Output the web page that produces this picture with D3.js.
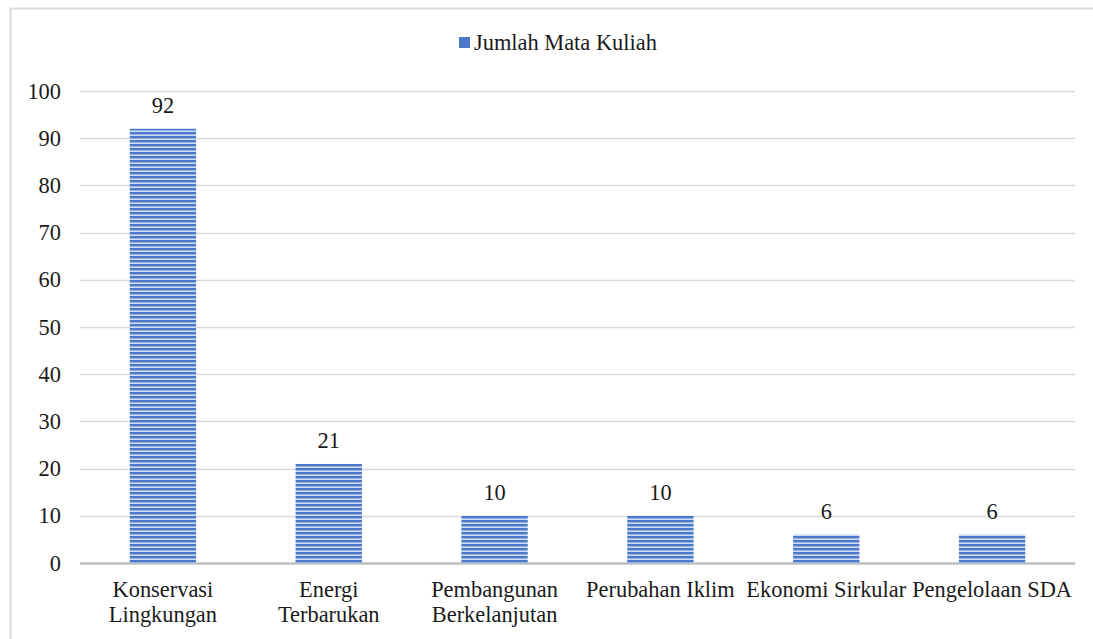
<!DOCTYPE html>
<meta charset="utf-8">
<script src="https://d3js.org/d3.v7.min.js"></script>
<style>
  body { margin: 0; background: #fff; }
  svg text { font-family: "Liberation Serif", "Times New Roman", "DejaVu Serif", serif; }
</style>
<body>
<script>

var categories = [
  ["Konservasi", "Lingkungan"],
  ["Energi", "Terbarukan"],
  ["Pembangunan", "Berkelanjutan"],
  ["Perubahan Iklim"],
  ["Ekonomi Sirkular"],
  ["Pengelolaan SDA"]
];
var jumlah = [92, 21, 10, 10, 6, 6];
var yTicks = [0, 10, 20, 30, 40, 50, 60, 70, 80, 90, 100];
var seriesName = "Jumlah Mata Kuliah";

var W = 1093, H = 639;
var margin = {top: 91, right: 18, bottom: 76, left: 80};
var fontSize = "22.4px";

var svg = d3.select("body").append("svg")
    .attr("width", W)
    .attr("height", H);

// striped fill like the original
var defs = svg.append("defs");
var pat = defs.append("pattern")
    .attr("id", "stripes")
    .attr("patternUnits", "userSpaceOnUse")
    .attr("width", 8).attr("height", 4);
pat.append("rect").attr("width", 8).attr("height", 4).attr("fill", "#cfdcf3");
pat.append("rect").attr("y", 0).attr("width", 8).attr("height", 2).attr("fill", "#4c79c9");
pat.append("rect").attr("y", 2).attr("width", 8).attr("height", 1).attr("fill", "#93b2e5");

// outer frame
svg.append("rect")
    .attr("x", 10.5).attr("y", 8.5)
    .attr("width", W + 20).attr("height", H + 20)
    .attr("fill", "none")
    .attr("stroke", "#d9d9d9")
    .attr("stroke-width", 2);

var x = d3.scaleBand()
    .domain(categories.map(function(d, i) { return i; }))
    .range([margin.left, W - margin.right]);

var y = d3.scaleLinear()
    .domain([0, 100])
    .range([H - margin.bottom, margin.top]);

// gridlines
svg.append("g")
  .selectAll("line")
  .data(yTicks)
  .enter().append("line")
    .attr("x1", margin.left)
    .attr("x2", W - margin.right)
    .attr("y1", function(d) { return Math.round(y(d)) + 0.5; })
    .attr("y2", function(d) { return Math.round(y(d)) + 0.5; })
    .attr("stroke", function(d) { return d === 0 ? "#bfbfbf" : "#d9d9d9"; })
    .attr("stroke-width", function(d) { return d === 0 ? 2.5 : 1.3; });

// y axis labels
var yAxis = d3.axisLeft(y).tickValues(yTicks).tickSize(0).tickPadding(0);
svg.append("g")
    .attr("transform", "translate(" + (margin.left - 19) + ",0)")
    .call(yAxis)
    .call(function(g) { g.select(".domain").remove(); })
    .attr("font-family", null)
    .attr("font-size", null)
    .selectAll("text")
      .style("font-size", fontSize)
      .attr("fill", "#1a1a1a");

// bars
var barW = x.bandwidth() * 0.4;
svg.append("g")
  .selectAll("rect")
  .data(jumlah)
  .enter().append("rect")
    .attr("x", function(d, i) { return x(i) + (x.bandwidth() - barW) / 2; })
    .attr("y", function(d) { return y(d); })
    .attr("width", barW)
    .attr("height", function(d) { return y(0) - y(d); })
    .attr("fill", "url(#stripes)");

// value labels
svg.append("g")
  .selectAll("text")
  .data(jumlah)
  .enter().append("text")
    .attr("x", function(d, i) { return x(i) + x.bandwidth() / 2; })
    .attr("y", function(d) { return y(d) - 16; })
    .attr("text-anchor", "middle")
    .style("font-size", fontSize)
    .attr("fill", "#1a1a1a")
    .text(function(d) { return d; });

// category labels
var cat = svg.append("g")
  .selectAll("text")
  .data(categories)
  .enter().append("text")
    .attr("x", function(d, i) { return x(i) + x.bandwidth() / 2; })
    .attr("y", H - margin.bottom + 34)
    .attr("text-anchor", "middle")
    .style("font-size", fontSize)
    .attr("fill", "#1a1a1a");
cat.selectAll("tspan")
  .data(function(d) { return d; })
  .enter().append("tspan")
    .attr("x", function() { return d3.select(this.parentNode).attr("x"); })
    .attr("dy", function(d, i) { return i === 0 ? 0 : 25; })
    .text(function(d) { return d; });

// legend
var lg = svg.append("g").attr("transform", "translate(459,37)");
lg.append("rect")
    .attr("x", 0).attr("y", 0)
    .attr("width", 11).attr("height", 11)
    .attr("fill", "#4c79c9");
lg.append("text")
    .attr("x", 15)
    .attr("y", 13)
    .style("font-size", fontSize)
    .attr("fill", "#1a1a1a")
    .text(seriesName);

</script>
</body>
